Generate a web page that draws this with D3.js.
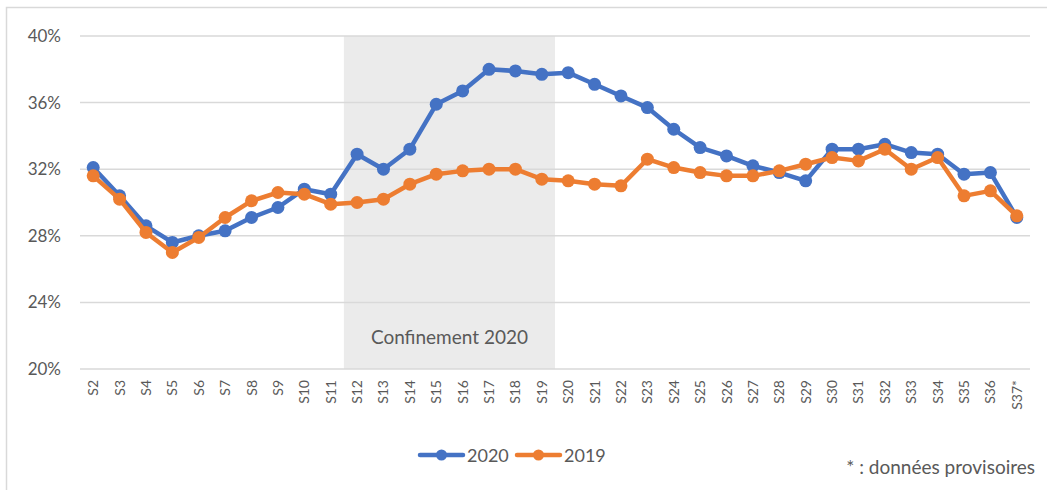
<!DOCTYPE html>
<html>
<head>
<meta charset="utf-8">
<title>2020 vs 2019</title>
<script src="https://cdn.jsdelivr.net/npm/d3@7"></script>
<style>
  body { margin: 0; background: #fff; }
  svg text { font-family: Lato, "Open Sans", sans-serif; fill: #595959; }
</style>
</head>
<body>
<script>
var weeks = ["S2","S3","S4","S5","S6","S7","S8","S9","S10","S11","S12","S13","S14","S15","S16","S17","S18","S19",
  "S20","S21","S22","S23","S24","S25","S26","S27","S28","S29","S30","S31","S32","S33","S34","S35","S36","S37*"];
var v2020 = [32.1,30.4,28.6,27.6,28.0,28.3,29.1,29.7,30.8,30.5,32.9,32.0,33.2,35.9,36.7,38.0,37.9,37.7,
  37.8,37.1,36.4,35.7,34.4,33.3,32.8,32.2,31.8,31.3,33.2,33.2,33.5,33.0,32.9,31.7,31.8,29.1];
var v2019 = [31.6,30.2,28.2,27.0,27.9,29.1,30.1,30.6,30.5,29.9,30.0,30.2,31.1,31.7,31.9,32.0,32.0,31.4,
  31.3,31.1,31.0,32.6,32.1,31.8,31.6,31.6,31.9,32.3,32.7,32.5,33.2,32.0,32.7,30.4,30.7,29.2];
var yTicks = [20,24,28,32,36,40];
var lockdown = ["S12","S19"];

var W = 1047, H = 490;
var svg = d3.select("body").append("svg").attr("width", W).attr("height", H);

// chart frame (only top & left visible in the picture)
svg.append("rect").attr("x", 6.5).attr("y", 7.5).attr("width", W + 10).attr("height", H + 10)
  .attr("fill", "none").attr("stroke", "#d9d9d9").attr("stroke-width", 1.5);

var x = d3.scaleBand().domain(weeks).range([80, 1030]);
var y = d3.scaleLinear().domain([20, 40]).range([369, 36]);
var cx = function(d, i) { return x(weeks[i]) + x.bandwidth() / 2; };

// lockdown shading
var shadeW = x(lockdown[1]) + x.bandwidth() - x(lockdown[0]);
svg.append("rect")
  .attr("x", x(lockdown[0]))
  .attr("y", y(40))
  .attr("width", shadeW)
  .attr("height", y(20) - y(40))
  .attr("fill", "#ebebeb");

// gridlines
svg.selectAll("line.grid").data(yTicks).enter().append("line")
  .attr("x1", 80).attr("x2", 1030)
  .attr("y1", function(d) { return y(d); }).attr("y2", function(d) { return y(d); })
  .attr("stroke", "#d9d9d9").attr("stroke-width", 1.5);

svg.append("text")
  .attr("x", x(lockdown[0]) + shadeW / 2)
  .attr("y", 344).attr("text-anchor", "middle").attr("font-size", 19)
  .text("Confinement 2020");

// y labels
svg.selectAll("text.ylab").data(yTicks).enter().append("text")
  .attr("x", 61).attr("y", function(d) { return y(d) + 6; })
  .attr("text-anchor", "end").attr("font-size", 17)
  .text(function(d) { return d + "%"; });

// x labels (rotated)
svg.selectAll("text.xlab").data(weeks).enter().append("text")
  .attr("transform", function(d, i) { return "translate(" + (cx(d, i) + 5) + ",380) rotate(-90)"; })
  .attr("text-anchor", "end").attr("font-size", 14)
  .text(function(d) { return d; });

var line = d3.line().x(cx).y(function(d) { return y(d); });

function drawSeries(vals, color) {
  svg.append("path").datum(vals).attr("d", line)
    .attr("fill", "none").attr("stroke", color).attr("stroke-width", 4.5)
    .attr("stroke-linejoin", "round");
  svg.selectAll(null).data(vals).enter().append("circle")
    .attr("cx", cx).attr("cy", function(d) { return y(d); })
    .attr("r", 6.5).attr("fill", color);
}
drawSeries(v2020, "#4472c4");
drawSeries(v2019, "#ed7d31");

// legend
var legend = [["2020", "#4472c4", 420], ["2019", "#ed7d31", 517]];
legend.forEach(function(l) {
  var g = svg.append("g");
  g.append("line").attr("x1", l[2]).attr("x2", l[2] + 43).attr("y1", 455).attr("y2", 455)
    .attr("stroke", l[1]).attr("stroke-width", 4.5).attr("stroke-linecap", "round");
  g.append("circle").attr("cx", l[2] + 21.5).attr("cy", 455).attr("r", 5.5).attr("fill", l[1]);
  g.append("text").attr("x", l[2] + 47).attr("y", 462).attr("font-size", 18).text(l[0]);
});

svg.append("text").attr("x", 1035).attr("y", 474).attr("text-anchor", "end")
  .attr("font-size", 19).attr("fill", "#404040").text("* : données provisoires");
</script>
</body>
</html>
